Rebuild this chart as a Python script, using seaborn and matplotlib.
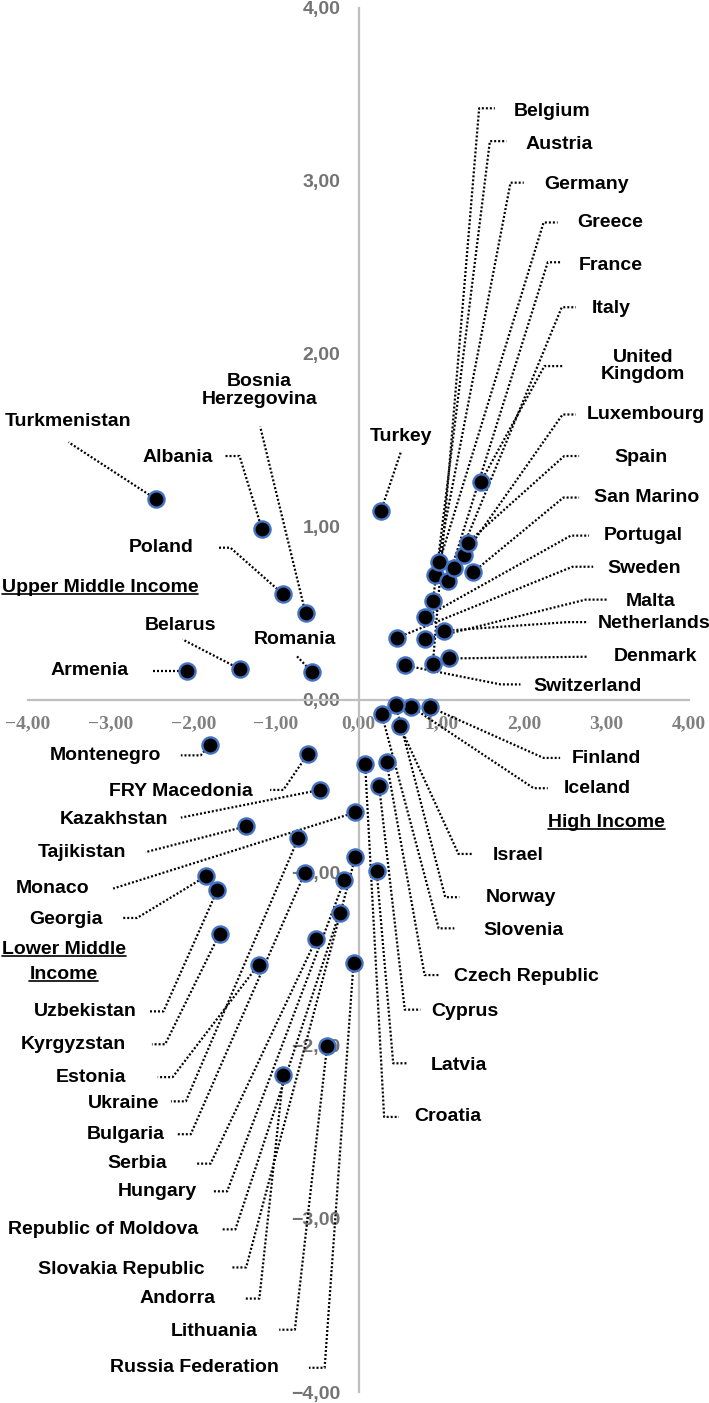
import pandas as pd
import matplotlib
matplotlib.use("Agg")
import matplotlib.pyplot as plt
import seaborn as sns
from matplotlib.lines import Line2D

# Country scores on the two dimensions
countries = [
    "Turkmenistan", "Albania", "Poland", "Bosnia\nHerzegovina", "Belarus", "Romania", "Armenia", "Turkey",
    "Belgium", "Austria", "Germany", "Greece", "France", "Italy", "United\nKingdom", "Luxembourg",
    "Spain", "San Marino", "Portugal", "Sweden", "Malta", "Netherlands", "Denmark", "Switzerland",
    "Finland", "Iceland", "Israel", "Norway", "Slovenia", "Czech Republic", "Cyprus", "Latvia", "Croatia",
    "Montenegro", "FRY Macedonia", "Kazakhstan", "Tajikistan", "Monaco", "Georgia", "Uzbekistan",
    "Kyrgyzstan", "Estonia", "Ukraine", "Bulgaria", "Serbia", "Hungary", "Republic of Moldova",
    "Slovakia Republic", "Andorra", "Lithuania", "Russia Federation",
]
dim1 = [
    -2.45, -1.17, -0.91, -0.64, -1.44, -0.56, -2.08, 0.27,
    0.90, 0.90, 0.93, 0.98, 1.08, 1.16, 1.48, 1.28,
    1.32, 1.39, 0.81, 0.47, 0.81, 1.04, 1.09, 0.56,
    0.86, 0.64, 0.50, 0.45, 0.28, 0.34, 0.25, 0.22, 0.08,
    -1.80, -0.61, -0.47, -1.36, -0.04, -1.85, -1.71,
    -1.68, -1.21, -0.73, -0.65, -0.51, -0.17, -0.23,
    -0.04, -0.91, -0.38, -0.06,
]
dim2 = [
    1.16, 0.99, 0.61, 0.50, 0.18, 0.16, 0.17, 1.09,
    0.21, 0.57, 0.72, 0.80, 0.69, 0.76, 1.26, 0.84,
    0.91, 0.74, 0.48, 0.36, 0.35, 0.40, 0.24, 0.20,
    -0.04, -0.04, -0.15, -0.03, -0.08, -0.36, -0.50, -0.99, -0.37,
    -0.26, -0.31, -0.52, -0.73, -0.65, -1.02, -1.10,
    -1.35, -1.53, -0.80, -1.00, -1.38, -1.04, -1.23,
    -0.91, -2.17, -2.00, -1.52,
]
ticks = [-4, -3, -2, -1, 0, 1, 2, 3, 4]

# label placement: text x, text y, alignment, elbow x, elbow y, horizontal tail
layout = {
    "Turkmenistan": (-3.52, 1.61, "center", -3.51, 1.49, 0),
    "Albania": (-1.76, 1.40, "right", -1.44, 1.41, -0.19),
    "Poland": (-2.00, 0.88, "right", -1.55, 0.88, -0.16),
    "Bosnia\nHerzegovina": (-1.20, 1.79, "center", -1.19, 1.58, 0),
    "Belarus": (-2.15, 0.43, "center", -2.13, 0.35, 0),
    "Romania": (-0.77, 0.35, "center", -0.76, 0.26, 0),
    "Armenia": (-2.78, 0.17, "right", -2.49, 0.17, 0),
    "Turkey": (0.52, 1.52, "center", 0.51, 1.43, 0),
    "Belgium": (1.88, 3.40, "left", 1.46, 3.42, 0.19),
    "Austria": (2.02, 3.21, "left", 1.59, 3.23, 0.20),
    "Germany": (2.25, 2.98, "left", 1.84, 2.99, 0.16),
    "Greece": (2.65, 2.76, "left", 2.24, 2.76, 0.17),
    "France": (2.66, 2.51, "left", 2.29, 2.53, 0.16),
    "Italy": (2.82, 2.26, "left", 2.46, 2.27, 0.17),
    "United\nKingdom": (3.44, 1.93, "center", 2.25, 1.93, 0.22),
    "Luxembourg": (2.76, 1.65, "left", 2.47, 1.65, 0.16),
    "Spain": (3.10, 1.40, "left", 2.49, 1.41, 0.18),
    "San Marino": (2.85, 1.17, "left", 2.48, 1.17, 0.19),
    "Portugal": (2.97, 0.95, "left", 2.57, 0.95, 0.22),
    "Sweden": (3.01, 0.76, "left", 2.59, 0.77, 0.25),
    "Malta": (3.23, 0.57, "left", 2.75, 0.58, 0.27),
    "Netherlands": (2.89, 0.44, "left", 2.53, 0.45, 0.25),
    "Denmark": (3.09, 0.25, "left", 2.78, 0.25, 0),
    "Switzerland": (2.12, 0.08, "left", 1.72, 0.09, 0.24),
    "Finland": (2.58, -0.34, "left", 2.24, -0.335, 0.20),
    "Iceland": (2.48, -0.51, "left", 2.12, -0.51, 0.17),
    "Israel": (1.63, -0.90, "left", 1.21, -0.89, 0.18),
    "Norway": (1.54, -1.14, "left", 1.05, -1.14, 0.17),
    "Slovenia": (1.51, -1.33, "left", 0.97, -1.32, 0.19),
    "Czech Republic": (1.16, -1.60, "left", 0.80, -1.59, 0.19),
    "Cyprus": (0.88, -1.80, "left", 0.56, -1.79, 0.19),
    "Latvia": (0.87, -2.11, "left", 0.42, -2.10, 0.18),
    "Croatia": (0.68, -2.41, "left", 0.31, -2.41, 0.18),
    "Montenegro": (-2.39, -0.32, "right", -1.91, -0.32, -0.24),
    "FRY Macedonia": (-1.28, -0.53, "right", -0.91, -0.52, -0.16),
    "Kazakhstan": (-2.30, -0.69, "right", -2.15, -0.68, 0),
    "Tajikistan": (-2.81, -0.88, "right", -2.58, -0.88, 0),
    "Monaco": (-3.26, -1.09, "right", -2.97, -1.09, 0),
    "Georgia": (-3.09, -1.27, "right", -2.68, -1.26, -0.19),
    "Uzbekistan": (-2.68, -1.80, "right", -2.36, -1.80, -0.18),
    "Kyrgyzstan": (-2.82, -1.99, "right", -2.34, -1.99, -0.16),
    "Estonia": (-2.81, -2.18, "right", -2.25, -2.18, -0.18),
    "Ukraine": (-2.41, -2.33, "right", -2.09, -2.32, -0.18),
    "Bulgaria": (-2.35, -2.51, "right", -2.03, -2.51, -0.18),
    "Serbia": (-2.32, -2.68, "right", -1.79, -2.68, -0.18),
    "Hungary": (-1.96, -2.84, "right", -1.59, -2.84, -0.18),
    "Republic of Moldova": (-1.94, -3.06, "right", -1.49, -3.06, -0.17),
    "Slovakia Republic": (-1.86, -3.29, "right", -1.36, -3.28, -0.17),
    "Andorra": (-1.73, -3.46, "right", -1.20, -3.46, -0.17),
    "Lithuania": (-1.22, -3.65, "right", -0.77, -3.64, -0.19),
    "Russia Federation": (-0.96, -3.86, "right", -0.41, -3.86, -0.19),
}

sns.set_style("white")
plt.rcParams["font.family"] = ["Liberation Sans", "DejaVu Sans"]

df = pd.DataFrame({"country": countries, "dim1": dim1, "dim2": dim2})

fig = plt.figure(figsize=(7.09, 14.03), dpi=100)
ax = fig.add_axes([0.0395, 0.00784, 0.9323, 0.9865])

# leader lines + country names
for name, x, y in zip(df["country"], df["dim1"], df["dim2"]):
    lx, ly, ha, ex, ey, tail = layout[name]
    ax.plot([x, ex, ex + tail], [y, ey, ey], color="black", lw=1.6,
            linestyle=(0, (0.9, 0.9)), zorder=2, clip_on=False)
    ax.text(lx, ly, name, ha=ha, va="center", fontsize=14,
            fontweight="bold", color="black", linespacing=1.05)

sns.scatterplot(data=df, x="dim1", y="dim2", s=135, color="black",
                edgecolor="#4472C4", linewidth=1.7, zorder=3, ax=ax, legend=False)

ax.set_xlim(-4, 4)
ax.set_ylim(-4, 4)
ax.set_xlabel("")
ax.set_ylabel("")
for side in ["top", "right"]:
    ax.spines[side].set_visible(False)
ax.spines["left"].set_position(("data", 0))
ax.spines["bottom"].set_position(("data", 0))
for side in ["left", "bottom"]:
    ax.spines[side].set_color("#BFBFBF")
    ax.spines[side].set_linewidth(1.6)
    ax.spines[side].set_zorder(1)

def fmt(v):
    return f"{v:.2f}".replace(".", ",").replace("-", "\u2212")

ax.set_xticks(ticks)
ax.set_yticks(ticks)
ax.set_xticklabels([fmt(t) for t in ticks], fontfamily="Liberation Serif",
                   fontweight="bold", fontsize=14, color="#808080")
ax.set_yticklabels([fmt(t) for t in ticks], fontweight="bold",
                   fontsize=14, color="#737373")
ax.tick_params(axis="x", length=0, pad=11)
ax.tick_params(axis="y", length=0, pad=13)

# income group headings (underlined)
groups = [
    ("Upper Middle Income", -4.32, 0.65, "left"),
    ("High Income", 3.00, -0.71, "center"),
    ("Lower Middle", -3.57, -1.445, "center"),
    ("Income", -3.57, -1.584, "center"),
]
heads = []
for txt, gx, gy, ha in groups:
    heads.append(ax.text(gx, gy, txt, ha=ha, va="center", fontsize=14,
                         fontweight="bold", color="black"))

fig.canvas.draw()
renderer = fig.canvas.get_renderer()
inv = fig.transFigure.inverted()
for t in heads:
    bb = t.get_window_extent(renderer)
    (x0, y0), (x1, _) = inv.transform([(bb.x0, bb.y0 + 2), (bb.x1, bb.y0 + 2)])
    fig.add_artist(Line2D([x0, x1], [y0, y0], color="black", lw=1.2,
                          transform=fig.transFigure))

fig.savefig("out.png", dpi=100)
